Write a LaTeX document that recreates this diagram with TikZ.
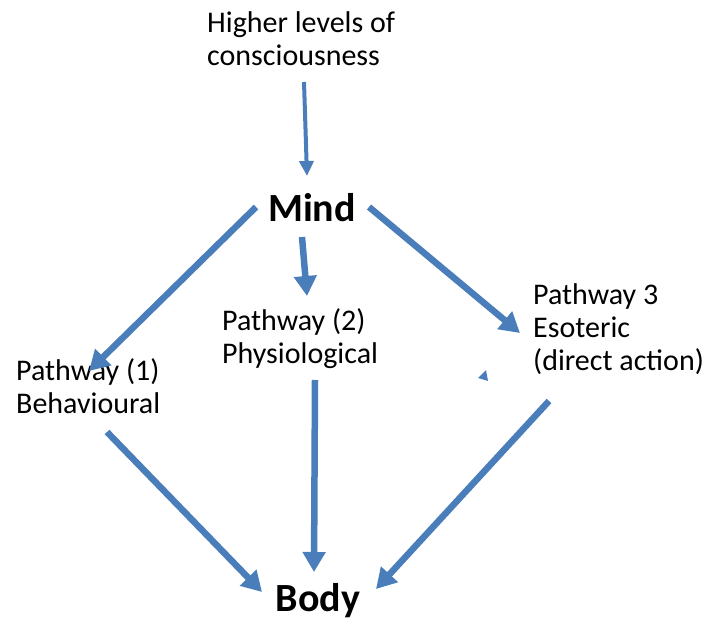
\documentclass[tikz,border=0pt]{standalone}
\usepackage{fontspec}
\setmainfont{Carlito}
\usetikzlibrary{arrows.meta,positioning}
\definecolor{linkblue}{HTML}{4A7EBB}

\begin{document}
\begin{tikzpicture}[x=1pt, y=-1pt, every node/.style={font=\fontsize{30}{33}\selectfont, inner sep=0pt}]
\tikzset{label/.style={align=left, anchor=base west}}
\tikzset{core/.style={font=\fontsize{40}{44}\selectfont\bfseries, anchor=base}}
\tikzset{arrow/.style={-{Triangle[length=20pt,width=22pt]}, line width=6.5pt, draw=linkblue}}
\tikzset{thinarrow/.style={-{Triangle[length=15pt,width=14pt]}, line width=4pt, draw=linkblue}}
\useasboundingbox (0,0) rectangle (706,620);
% texts (placed by the baseline of their last line)
\node[label] (higher) at (207,66) {Higher levels of\\consciousness};
\node[core] (mind) at (312,222) {Mind};
\node[label] (p1) at (16,413) {Pathway (1)\\Behavioural};
\node[label] (p2) at (222,363) {Pathway (2)\\Physiological};
\node[label] (p3) at (533,370) {Pathway 3\\Esoteric\\(direct action)};
\node[core] (body) at (318,611) {Body};
% arrow ends
\coordinate (higherout) at (304,82);
\coordinate (mindin) at (307,176);
\coordinate (mindleft) at (256,207);
\coordinate (mindmid) at (302,237);
\coordinate (mindright) at (369,207);
\coordinate (p1in) at (89,371);
\coordinate (p2in) at (307,296);
\coordinate (p3in) at (520,333);
\coordinate (p1out) at (107,432);
\coordinate (p2out) at (315,380);
\coordinate (p3out) at (549,401);
\coordinate (bodyleft) at (262,592);
\coordinate (bodymid) at (314,572);
\coordinate (bodyright) at (376,589);
% connectors
\draw[thinarrow] (higherout) -- (mindin);
\draw[arrow] (mindleft) -- (p1in);
\draw[arrow] (mindmid) -- (p2in);
\draw[arrow] (mindright) -- (p3in);
\draw[arrow] (p1out) -- (bodyleft);
\draw[arrow] (p2out) -- (bodymid);
\draw[arrow] (p3out) -- (bodyright);
% stray tip
\fill[linkblue] (478,378) -- (486,370) -- (488,381) -- cycle;
\end{tikzpicture}
\end{document}
